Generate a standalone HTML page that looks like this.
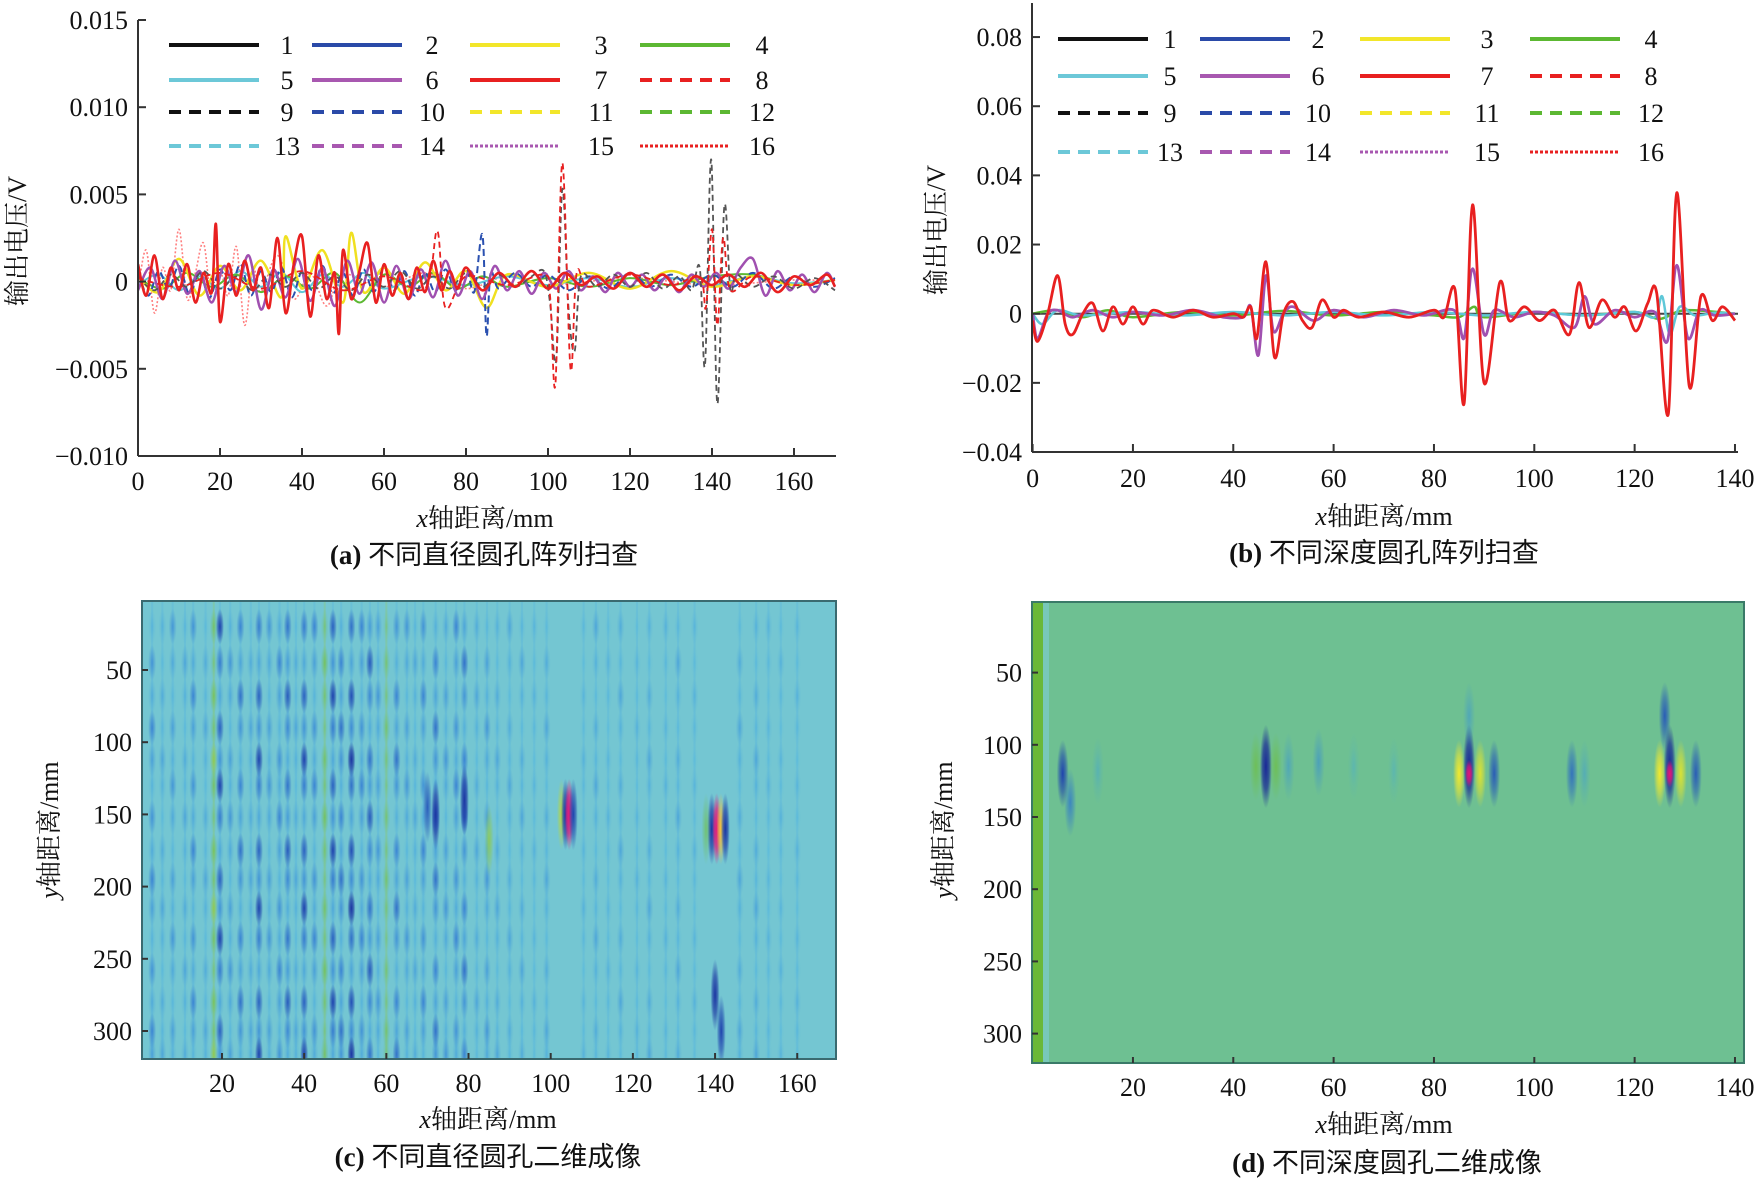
<!DOCTYPE html>
<html><head><meta charset="utf-8">
<style>
html,body{margin:0;padding:0;background:#fff;}
svg{display:block;}
.t{font-family:"Liberation Serif","Noto Serif CJK SC",serif;font-size:26px;fill:#111;}
.cap{font-family:"Liberation Serif","Noto Sans CJK SC",sans-serif;font-size:27px;fill:#111;}
</style></head>
<body>
<svg id="fig" width="1758" height="1180" viewBox="0 0 1758 1180" xmlns="http://www.w3.org/2000/svg">
<defs>
<clipPath id="clipA"><rect x="138" y="0" width="700" height="456"/></clipPath>
<clipPath id="clipB"><rect x="1032" y="0" width="710" height="452"/></clipPath>
<clipPath id="clipC"><rect x="142" y="601" width="694" height="458"/></clipPath>
<clipPath id="clipD"><rect x="1032" y="602" width="712" height="461"/></clipPath>
</defs>
<g id="root"></g>
</svg>
<script>
// ---------- Panel A data (x in mm, values in mV) ----------
const aX7 = [0,2,4,6,8,10,12,14,16,18,19,20,22,24,26,28,30,32,34,36,38,40,42,44,46,48,49,50,52,54,56,58,60,62,64,66,68,70,72,74,76,78,80,84,88,92,96,100,104,108,112,116,120,124,128,132,136,140,144,148,152,156,160,164,168,170];
const aV7 = [1,-0.8,1.5,-1,0.8,-0.5,1,-1.2,0.5,-0.6,3.3,-2.3,1,-0.8,1.2,-0.5,0.8,-1.5,2.5,-1.8,1,2.6,-2,1.5,-1,0.5,-3,1.8,-1,0.6,2.2,-1.2,1,-0.8,0.5,-1,0.8,-0.6,1.2,-0.5,0.6,-0.4,0.8,-0.5,0.5,-0.3,0.6,-0.4,0.5,-0.2,0.3,-0.4,0.5,-0.3,0.4,-0.5,0.3,-0.2,0.4,-0.3,0.5,-0.6,0.3,-0.2,0.4,-0.3];
const aX6 = [0,3,6,9,12,15,18,21,24,27,30,33,36,39,42,45,48,51,54,57,60,63,66,69,72,75,78,81,84,87,90,93,96,99,102,105,108,111,114,117,120,123,126,129,132,135,138,141,144,147,150,153,156,159,162,165,168,170];
const aV6 = [-0.5,0.8,-1,1.2,-0.7,0.6,-1.2,0.9,-0.6,1.5,-1.6,0.7,-0.9,1.3,-1.1,0.8,-1.4,1.2,-0.7,1.1,-1.2,0.9,-1,0.7,-0.9,1.2,-0.8,0.6,-1,0.9,-0.5,0.6,-0.7,0.5,-0.4,0.6,-0.5,0.3,-0.6,0.5,-0.3,0.4,-0.5,0.3,-0.6,0.4,-0.3,0.5,-0.4,0.8,1.3,-0.8,0.6,-0.5,0.4,-0.6,0.5,-0.3];
const aX2 = [0,2.5,5,7.5,10,12.5,15,17.5,20,22.5,25,27.5,30,32.5,35,37.5,40,42.5,45,47.5,50,52.5,55,57.5,60,62.5,65,67.5,70,72.5,75,77.5,80,82,84,85,86,88,92,96,100,105,110,115,120,125,130,135,140,145,150,155,160,165,170];
const aV2 = [0.5,-0.8,0.6,-0.4,0.9,-0.7,0.5,-0.9,0.7,-0.5,1,-0.8,0.6,-0.6,0.8,-0.9,0.6,-0.5,0.9,-0.7,0.5,-0.8,0.7,-0.6,0.8,-0.5,0.6,-0.8,0.5,-0.6,0.7,-0.5,0.8,-0.6,2.7,-3.1,0.5,-0.4,0.5,-0.3,0.4,-0.5,0.3,-0.4,0.5,-0.3,0.4,-0.3,0.4,-0.3,0.5,-0.4,0.3,-0.3,0.2];
const aX3 = [0,5,10,15,20,25,30,35,36,40,45,50,52,55,60,65,70,75,80,85,90,100,110,120,130,140,150,160,170];
const aV3 = [0.3,-0.6,1.3,-0.8,0.9,-0.5,1.2,-0.9,2.6,-0.4,1.8,-1.2,2.8,-0.6,0.8,-0.7,1.1,-0.5,0.6,-1.5,0.4,-0.3,0.5,-0.4,0.6,-0.3,0.3,-0.2,0.1];
const aX9 = [0,4,8,12,16,20,24,28,32,36,40,44,48,52,56,60,64,68,72,76,80,84,88,92,96,99,100.5,102,103.5,105,106.5,108,112,116,120,124,128,132,135,137,138.3,139.8,141.3,143,144.5,146,150,155,160,165,170];
const aV9 = [0.3,-0.5,0.4,-0.3,0.6,-0.4,0.3,-0.5,0.4,-0.3,0.5,-0.4,0.3,-0.5,0.4,-0.3,0.6,-0.4,0.3,-0.4,0.5,-0.3,0.4,-0.3,0.3,0.6,-1.2,-4.5,5.3,-1.5,-4,0.3,-0.3,0.4,-0.3,0.5,-0.4,0.3,-0.5,0.8,-4.8,7,-7,4.3,-0.5,0.4,-0.3,0.3,-0.4,0.2,-0.5];
const aX8 = [0,10,20,30,40,50,60,70,73,75,80,90,99,100.5,101.8,103.5,105.5,107,110,120,130,137,138.5,140,141.3,142.7,144.5,150,160,170];
const aV8 = [0.2,-0.3,0.5,-0.4,0.6,-0.5,0.3,-0.4,2.9,-1.5,0.3,-0.2,0.4,-0.8,-5.9,6.8,-5,0.5,-0.3,0.4,-0.2,0.3,-1.5,3,-2.5,2.5,-0.5,0.3,-0.2,0.1];
const aX16 = [0,2,4,6,8,10,12,14,16,18,20,22,24,26,28,30,34,38,42,46,50,60,70,80,90,100,120,140,160,170];
const aV16 = [-0.5,1.8,-1.8,0.8,-0.5,3,-1,0.5,2.2,-1.2,0.6,-0.8,2,-2.5,0.8,-0.6,1.5,-1,0.5,-1.4,0.4,-0.3,0.5,-0.4,0.3,-0.2,0.2,-0.2,0.1,0];
const aX4 = [0,6,12,18,24,30,36,42,48,54,60,66,72,78,84,90,100,110,120,130,140,150,160,170];
const aV4 = [0.2,-0.4,0.5,-0.3,0.4,-0.6,0.3,-0.4,0.5,-1.2,0.4,-0.3,0.5,-0.4,0.3,-0.3,0.2,-0.3,0.2,-0.2,0.3,0.4,-0.2,0.1];
const aX5 = [0,5,10,15,20,25,30,35,40,45,50,55,60,70,80,90,100,110,120,130,140,150,160,170];
const aV5 = [-0.2,0.4,-0.5,0.3,-0.4,0.6,-0.3,0.5,-0.6,0.4,-0.3,0.5,-0.4,0.3,-0.2,0.3,-0.2,0.2,-0.3,0.2,-0.2,0.3,-0.1,0.1];
const aYTicks = [0.015,0.010,0.005,0,-0.005,-0.010];
const aYLabels = ["0.015","0.010","0.005","0","\u22120.005","\u22120.010"];
const aXTicks = [0,20,40,60,80,100,120,140,160];

// ---------- Panel B data (x mm, values mV) ----------
const bX7 = [0,1,3,5,6.5,8,10,12,14,16,18,20,22,24,28,32,36,40,42,43.5,44.7,46.5,48.2,50,51.9,53.8,55.7,57.7,60,62,65,70,75,80,82,84.2,86,87.7,90,93.1,95,98,101,104,107,108.9,110.9,113.5,116,118,120.3,122.6,124.4,126.7,128.4,130.9,133.2,135.5,137.5,140];
const bV7 = [-2,-8,0,11,-3,-6,0,3,-5,2,-3,2,-3,1,-1,1,-1,0,-1,2,-7,15,-12.5,0,3.5,-2,-4,4,-1,1,-1,0.5,-1,1,-1,7,-26,31.5,-20,9,-2,2,-2,1,-6,9,-4,4,-1,2,-5,3,6,-29,35,-21,5,-2,2,-2];
const bX6 = [0,1,3,5,8,12,16,20,26,32,38,42,43.5,45,46.5,48,50,52,56,60,66,72,78,84,86,87.7,90,92,96,100,104,108,110,112,116,120,124,126.5,128.4,130.6,133,136,140];
const bV6 = [0,-7,0,1,-1,1,-1,0.5,-0.5,1,-1,-1,2,-12,11,-5,0,2,-2,1,-1,1,-0.5,1,-7,13,-6,1,-1,0.5,-0.5,-4,5,-3,1,-1,0.5,-8,14,-7,1,-0.5,0];
const bX5 = [0,2,5,10,20,30,40,50,60,70,80,90,100,110,120,124,125.5,127,129,132,136,140];
const bV5 = [0,-3,1,-0.5,0.5,-0.5,0.5,-0.5,0.5,-0.5,0.5,-0.5,0.5,-0.5,0.5,-1,5,-6,2,-0.5,0.3,0];
const bX4 = [0,5,10,15,20,30,40,50,60,70,80,85,88,90,100,110,120,125,130,140];
const bV4 = [0,1,-1,1,-1,0.5,-0.5,0.8,-0.5,0.5,-0.5,-1,2,-1,0.5,-0.5,0.5,-1.5,1,0];
const bYTicks = [0.08,0.06,0.04,0.02,0,-0.02,-0.04];
const bYLabels = ["0.08","0.06","0.04","0.02","0","\u22120.02","\u22120.04"];
const bXTicks = [0,20,40,60,80,100,120,140];

// ---------- Panel C heatmap data ----------
const cColX = [3,5.5,8,11,13,16,18,19.5,22,24.5,27,29,31.5,34,36,38,40,42.5,45,47,49,51.5,54,56,58,60,62.5,65,67,69,72,74.5,77,79,82,84.5,87,90,93,96,99,108,111,114,117,121,124,128,131,135,146,150,153,156,160];
const cColV = [-0.5,-0.3,-0.4,-0.3,-0.5,-0.3,0.5,-0.8,-0.4,-0.6,-0.3,-0.8,-0.4,-0.5,-0.7,-0.3,-0.8,-0.5,0.4,-0.8,-0.6,-0.9,-0.5,-0.7,-0.4,0.3,-0.6,-0.4,-0.3,-0.5,-0.6,-0.4,-0.5,-0.6,-0.3,-0.4,-0.3,-0.3,-0.3,-0.2,-0.3,-0.2,-0.3,-0.2,-0.3,-0.2,-0.3,-0.2,-0.3,-0.2,-0.3,-0.3,-0.2,-0.2,-0.2];
const cRowY = [20,45,68,90,112,130,152,175,195,215,236,258,280,300,316];
const cSpotX = [102.6,103.6,104.5,105.5,139.2,140.4,141.4,142.5,137.8,70,72,79,85,140,141.5];
const cSpotY = [150,150,150,150,160,160,160,160,160,145,150,140,168,275,300];
const cSpotV = [0.6,-0.9,1,-0.8,-0.9,1,0.8,-0.9,0.4,-0.7,-0.9,-0.9,0.5,-0.9,-0.8];
const cYTicks = [50,100,150,200,250,300];
const cXTicks = [20,40,60,80,100,120,140,160];

// ---------- Panel D heatmap data ----------
const dSpotX = [6,7.5,13,44.5,46.5,48.5,51,57,64,72,85,87,89.2,92,87,107.5,110,125,127,129.2,126,132.2];
const dSpotY = [120,140,118,115,115,115,115,112,115,118,120,115,120,120,80,120,120,120,115,120,80,120];
const dSpotV = [-0.8,-0.5,-0.2,0.4,-1,0.4,-0.3,-0.35,-0.15,-0.15,0.75,-1,0.7,-0.7,-0.3,-0.6,-0.25,0.75,-1,0.7,-0.7,-0.7];
const dCoreX = [87,127];
const dCoreY = [120,120];
const dCoreV = [1,1];
const dYTicks = [50,100,150,200,250,300];
const dXTicks = [20,40,60,80,100,120,140];

// ---------- helpers ----------
const NS = "http://www.w3.org/2000/svg";
const root = document.getElementById('root');
function mk(tag, attrs, parent){ const e=document.createElementNS(NS,tag); for(const k in attrs) e.setAttribute(k,attrs[k]); (parent||root).appendChild(e); return e; }
function txt(s, x, y, cls, anchor, parent){ const e=mk('text',{x:x,y:y,'class':cls,'text-anchor':anchor||'middle'},parent); e.textContent=s; return e; }
function smooth(pts){
  let d='M'+pts[0][0].toFixed(1)+','+pts[0][1].toFixed(1);
  for(let i=0;i<pts.length-1;i++){
    const p0=pts[Math.max(0,i-1)],p1=pts[i],p2=pts[i+1],p3=pts[Math.min(pts.length-1,i+2)];
    const c1x=p1[0]+(p2[0]-p0[0])/6,c1y=p1[1]+(p2[1]-p0[1])/6,c2x=p2[0]-(p3[0]-p1[0])/6,c2y=p2[1]-(p3[1]-p1[1])/6;
    d+=' C'+c1x.toFixed(1)+','+c1y.toFixed(1)+' '+c2x.toFixed(1)+','+c2y.toFixed(1)+' '+p2[0].toFixed(1)+','+p2[1].toFixed(1);
  }
  return d;
}
function lerp(a,b,t){return [a[0]+(b[0]-a[0])*t,a[1]+(b[1]-a[1])*t,a[2]+(b[2]-a[2])*t];}
function vcolor(v){
  if(v<0){ const t=Math.min(1,-v); return t<0.5?lerp([70,190,235],[40,110,210],t/0.5):lerp([40,110,210],[25,40,150],(t-0.5)/0.5); }
  const t=Math.min(1,v);
  if(t<0.4) return [110,190,50];
  if(t<0.75) return lerp([110,190,50],[250,235,40],(t-0.4)/0.35);
  return lerp([250,235,40],[230,20,120],(t-0.75)/0.25);
}
function rgb(c){return 'rgb('+c.map(Math.round).join(',')+')';}
let gid=0;
function blob(parent,cx,cy,rx,ry,v){
  const id='g'+(gid++);
  const c=rgb(vcolor(v));
  const g=mk('radialGradient',{id:id},document.querySelector('defs'));
  mk('stop',{offset:'0','stop-color':c,'stop-opacity':Math.min(1,Math.abs(v)+0.2)},g);
  mk('stop',{offset:'0.55','stop-color':c,'stop-opacity':Math.min(1,Math.abs(v))*0.7},g);
  mk('stop',{offset:'1','stop-color':c,'stop-opacity':0},g);
  return mk('ellipse',{cx:cx,cy:cy,rx:rx,ry:ry,fill:'url(#'+id+')'},parent);
}

// ================= Panel A =================
const AX=x=>138+x*4.1, AY=v=>281.6-v*17.44;
const gA=mk('g',{});  
const seriesA=[
 {xs:aX16,vs:aV16,c:'#ff8080',w:1.6,d:'2,2',n:'series-16'},
 {xs:aX5,vs:aV5,c:'#5ec8d8',w:2,d:'',n:'series-5'},
 {xs:aX4,vs:aV4,c:'#5cb832',w:2,d:'',n:'series-4'},
 {xs:aX3,vs:aV3,c:'#f0e020',w:2.5,d:'',n:'series-3'},
 {xs:aX2,vs:aV2,c:'#2a50b0',w:2,d:'7,4',n:'series-10'},
 {xs:aX6,vs:aV6,c:'#a050b0',w:2.5,d:'',n:'series-6'},
 {xs:aX9,vs:aV9,c:'#555',w:1.8,d:'6,4',n:'series-9'},
 {xs:aX8,vs:aV8,c:'#e82020',w:1.8,d:'6,4',n:'series-8'},
 {xs:aX7,vs:aV7,c:'#e82020',w:2.6,d:'',n:'series-7'}
];
const gAL=mk('g',{'clip-path':'url(#clipA)'},gA);
seriesA.forEach(s=>{
  const p=mk('path',{d:smooth(s.xs.map((x,i)=>[AX(x),AY(s.vs[i])])),fill:'none',stroke:s.c,'stroke-width':s.w,'stroke-dasharray':s.d},gAL);
  
  
});
mk('line',{x1:138,y1:20,x2:138,y2:456,stroke:'#333','stroke-width':2},gA);
mk('line',{x1:138,y1:456,x2:836,y2:456,stroke:'#333','stroke-width':2},gA);
aYTicks.forEach((t,i)=>{const y=AY(t*1000);mk('line',{x1:138,y1:y,x2:146,y2:y,stroke:'#333','stroke-width':2},gA);
  const e=txt(aYLabels[i],128,y+9,'t','end',gA);  });
aXTicks.forEach(t=>{const x=AX(t);mk('line',{x1:x,y1:456,x2:x,y2:448,stroke:'#333','stroke-width':2},gA);
  const e=txt(String(t),x,490,'t','middle',gA);  });

// ================= Panel B =================
const BX=x=>1032.6+x*5.017, BY=v=>313.7-v*3.458;
const gB=mk('g',{});  
const gBL=mk('g',{'clip-path':'url(#clipB)'},gB);
const seriesB=[
 {xs:bX4,vs:bV4,c:'#5cb832',w:2.5,n:'series-b-4'},
 {xs:bX5,vs:bV5,c:'#5ec8d8',w:2.5,n:'series-b-5'},
 {xs:bX6,vs:bV6,c:'#a050b0',w:2.8,n:'series-b-6'},
 {xs:bX7,vs:bV7,c:'#e82020',w:2.8,n:'series-b-7'}
];
mk('line',{x1:1032,y1:BY(0),x2:1738,y2:BY(0),stroke:'#444','stroke-width':2},gBL);
seriesB.forEach(s=>{
  const p=mk('path',{d:smooth(s.xs.map((x,i)=>[BX(x),BY(s.vs[i])])),fill:'none',stroke:s.c,'stroke-width':s.w},gBL);
  
  
});
mk('line',{x1:1032,y1:3,x2:1032,y2:452,stroke:'#333','stroke-width':2},gB);
mk('line',{x1:1032,y1:452,x2:1738,y2:452,stroke:'#333','stroke-width':2},gB);
bYTicks.forEach((t,i)=>{const y=BY(t*1000);mk('line',{x1:1032,y1:y,x2:1040,y2:y,stroke:'#333','stroke-width':2},gB);
  const e=txt(bYLabels[i],1022,y+9,'t','end',gB);  });
bXTicks.forEach(t=>{const x=BX(t);mk('line',{x1:x,y1:452,x2:x,y2:444,stroke:'#333','stroke-width':2},gB);
  const e=txt(String(t),x,487,'t','middle',gB);  });

// ================= Legends =================
const legStyles=[
 ['#111',''],['#2a4aa8',''],['#f2e62a',''],['#5cb832',''],
 ['#6cc8d8',''],['#a858b0',''],['#e82020',''],['#e82020','12,8'],
 ['#111','12,8'],['#2a4aa8','12,8'],['#f2e62a','12,8'],['#5cb832','12,8'],
 ['#6cc8d8','12,8'],['#a858b0','12,8'],['#a858b0','3,2'],['#e82020','3,2']
];
const legNames=['1','2','3','4','5','6','7','8','9','10','11','12','13','14','15','16'];
function legend(parent,cols,labs,rows,len){
  legNames.forEach((n,i)=>{
    const r=Math.floor(i/4), c=i%4;
    const g=mk('g',{},parent);
    
    
    mk('line',{x1:cols[c],y1:rows[r],x2:cols[c]+len,y2:rows[r],stroke:legStyles[i][0],'stroke-width':legStyles[i][1]==='3,2'?3:4,'stroke-dasharray':legStyles[i][1]},g);
    txt(n,labs[c],rows[r]+9,'t','middle',g);
  });
}
const legA=mk('g',{});  
legend(legA,[169,312,470,640],[287,432,601,762],[45,80,112,146],90);
const legB=mk('g',{});  
legend(legB,[1058,1200,1360,1530],[1170,1318,1487,1651],[39,76,113,152],90);

// ================= Panel C =================
const CX=x=>139.8+x*4.109, CY=y=>597.8+y*1.444;
const gC=mk('g',{});  
const gCH=mk('g',{'clip-path':'url(#clipC)'},gC);
mk('rect',{x:142,y:601,width:694,height:458,fill:'#74c6d2'},gCH);
cColX.forEach((x,i)=>{
  mk('rect',{x:CX(x)-1,y:601,width:2,height:458,fill:cColV[i]<0?'#58b4e0':'#90c870',opacity:0.35},gCH);
  cRowY.forEach((y,j)=>{
    const k=(i*7+j*3)%5;
    const v=cColV[i]*(0.35+0.65*k/4);
    const b=blob(gCH,CX(x),CY(y),4,18,v);
    
    
  });
});
cSpotX.forEach((x,i)=>{
  const b=blob(gCH,CX(x),CY(cSpotY[i]),4.5,36,cSpotV[i]);
  
  
});
mk('rect',{x:142,y:601,width:694,height:458,fill:'none',stroke:'#3a6a70','stroke-width':2},gC);
cYTicks.forEach(t=>{const y=CY(t);mk('line',{x1:142,y1:y,x2:148,y2:y,stroke:'#333','stroke-width':2},gC);
  const e=txt(String(t),132,y+9,'t','end',gC);  });
cXTicks.forEach(t=>{const x=CX(t);mk('line',{x1:x,y1:1059,x2:x,y2:1053,stroke:'#333','stroke-width':2},gC);
  const e=txt(String(t),x,1092,'t','middle',gC);  });

// ================= Panel D =================
const DX=x=>1032.6+x*5.017, DY=y=>600.4+y*1.444;
const gD=mk('g',{});  
const gDH=mk('g',{'clip-path':'url(#clipD)'},gD);
mk('rect',{x:1032,y:602,width:712,height:461,fill:'#6ec092'},gDH);
mk('rect',{x:1032,y:602,width:11,height:461,fill:'#6ab838'},gDH);
mk('rect',{x:1043,y:602,width:6,height:461,fill:'#78c8b8'},gDH);
dSpotX.forEach((x,i)=>{
  const b=blob(gDH,DX(x),DY(dSpotY[i]),6,Math.abs(dSpotV[i])>0.9?42:34,dSpotV[i]);
  
  
});
dCoreX.forEach((x,i)=>{
  const b=blob(gDH,DX(x),DY(dCoreY[i]),4,14,dCoreV[i]);
  
  
});
mk('rect',{x:1032,y:602,width:712,height:461,fill:'none',stroke:'#3a7a68','stroke-width':2},gD);
dYTicks.forEach(t=>{const y=DY(t);mk('line',{x1:1032,y1:y,x2:1038,y2:y,stroke:'#333','stroke-width':2},gD);
  const e=txt(String(t),1022,y+9,'t','end',gD);  });
dXTicks.forEach(t=>{const x=DX(t);mk('line',{x1:x,y1:1063,x2:x,y2:1057,stroke:'#333','stroke-width':2},gD);
  const e=txt(String(t),x,1096,'t','middle',gD);  });

// ================= Titles / labels =================
function label(s,x,y,cls,rot,name){
  const e=txt('',x,y,cls,'middle');
  e.innerHTML=s;
  if(rot) e.setAttribute('transform','rotate(-90 '+x+' '+y+')');
  
  
}
const xl='<tspan font-style="italic">x</tspan>轴距离/mm';
const yl='<tspan font-style="italic">y</tspan>轴距离/mm';
label(xl,485,527,'t',false,'x-axis-title-a');
label(xl,1384,525,'t',false,'x-axis-title-b');
label(xl,488,1128,'t',false,'x-axis-title-c');
label(xl,1384,1133,'t',false,'x-axis-title-d');
label('输出电压/V',26,241,'t',true,'y-axis-title-a');
label('输出电压/V',945,230,'t',true,'y-axis-title-b');
label(yl,58,830,'t',true,'y-axis-title-c');
label(yl,952,830,'t',true,'y-axis-title-d');
label('<tspan font-weight="bold">(a)</tspan> 不同直径圆孔阵列扫查',484,564,'cap',false,'caption-a');
label('<tspan font-weight="bold">(b)</tspan> 不同深度圆孔阵列扫查',1384,562,'cap',false,'caption-b');
label('<tspan font-weight="bold">(c)</tspan> 不同直径圆孔二维成像',488,1166,'cap',false,'caption-c');
label('<tspan font-weight="bold">(d)</tspan> 不同深度圆孔二维成像',1387,1172,'cap',false,'caption-d');
</script>
</body></html>
